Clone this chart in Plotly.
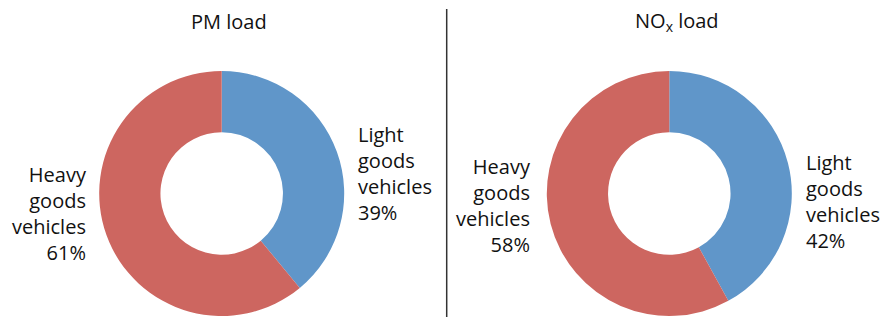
import plotly.graph_objects as go

# browser default body margin is 8px; work in reference pixel coords and offset
OFF = 8
W, H = 889 - OFF, 317 - OFF
categories = ["Light goods vehicles", "Heavy goods vehicles"]
pm_values = [39, 61]
nox_values = [42, 58]
titles = ["PM load", "NO<sub>x</sub> load"]
colors = ["#6096C9", "#CD6660"]
FONT = "Open Sans"

def px(x):
    return (x - OFF) / W

def py(y):
    return 1 - (y - OFF) / H

fig = go.Figure()
for vals, cx in [(pm_values, 221.7), (nox_values, 669.3)]:
    r = 122.5
    fig.add_trace(go.Pie(
        labels=categories, values=vals, hole=0.5, sort=False,
        direction="clockwise", rotation=0,
        marker=dict(colors=colors, line=dict(width=0)),
        textinfo="none", hoverinfo="label+percent", showlegend=False,
        domain=dict(x=[px(cx - r), px(cx + r)], y=[py(316), py(71)]),
    ))

def label_text(name, v):
    return "<br>".join(name.split(" ")) + "<br>" + f"{v}%"

ann = []
for t, cx in zip(titles, [229, 677]):
    ann.append(dict(text=t, x=px(cx), y=py(21), xref="paper", yref="paper",
                    xanchor="center", yanchor="middle", showarrow=False,
                    font=dict(family=FONT, size=20, color="#111")))
ann.append(dict(text=label_text(categories[0], pm_values[0]), x=px(356), y=py(174),
                xanchor="left", yanchor="middle", align="left"))
ann.append(dict(text=label_text(categories[1], pm_values[1]), x=px(88.5), y=py(213),
                xanchor="right", yanchor="middle", align="right"))
ann.append(dict(text=label_text(categories[0], nox_values[0]), x=px(803.5), y=py(201),
                xanchor="left", yanchor="middle", align="left"))
ann.append(dict(text=label_text(categories[1], nox_values[1]), x=px(533), y=py(205),
                xanchor="right", yanchor="middle", align="right"))
for a in ann[2:]:
    a.update(xref="paper", yref="paper", showarrow=False,
             font=dict(family=FONT, size=20, color="#111"))

fig.update_layout(
    width=W, height=H, margin=dict(l=0, r=0, t=0, b=0),
    paper_bgcolor="white", plot_bgcolor="white",
    annotations=ann,
    shapes=[dict(type="line", xref="paper", yref="paper",
                 x0=px(446.7), x1=px(446.7), y0=py(9), y1=0,
                 line=dict(color="#333", width=1.5))],
)
fig.write_html("out.html")
